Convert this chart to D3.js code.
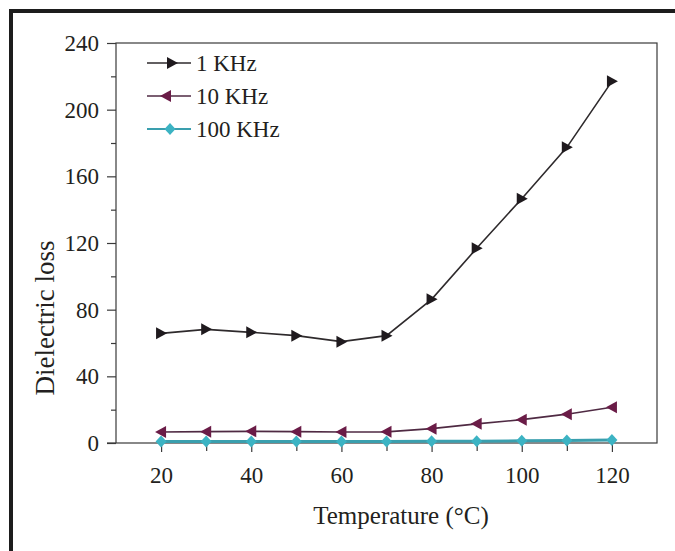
<!DOCTYPE html>
<html><head><meta charset="utf-8">
<script src="https://cdn.jsdelivr.net/npm/d3@7"></script>
<style>
html,body{margin:0;padding:0;background:#fff;}
svg{display:block;}
text{font-family:"Liberation Serif","Times New Roman",serif;fill:#231f20;}
</style></head>
<body>
<svg id="chart" width="675" height="551"></svg>
<script>
const temps = [20, 30, 40, 50, 60, 70, 80, 90, 100, 110, 120];
const loss1k = [65.8, 68.2, 66.4, 64.4, 60.8, 64.4, 86.2, 116.8, 146.6, 177.4, 217.0];
const loss10k = [6.6, 6.8, 7.0, 6.8, 6.6, 6.7, 8.6, 11.5, 14.0, 17.3, 21.4];
const loss100k = [0.9, 0.9, 0.9, 0.9, 0.9, 0.9, 1.0, 1.1, 1.3, 1.5, 1.8];
const seriesNames = ["1 KHz", "10 KHz", "100 KHz"];
const xTickLabels = [20, 40, 60, 80, 100, 120];
const xMinorTicks = [30, 50, 70, 90, 110];
const yTickLabels = [0, 40, 80, 120, 160, 200, 240];
const yMinorTicks = [20, 60, 100, 140, 180, 220];
const xTitle = "Temperature (\u00B0C)";
const yTitle = "Dielectric loss";

const svg = d3.select("#chart");
const x = d3.scaleLinear().domain([10, 130]).range([116, 657]);
const y = d3.scaleLinear().domain([0, 240]).range([443, 43]);

// outer frame
svg.append("path").attr("d", "M11,551 V11 H675").attr("fill", "none")
  .attr("stroke", "#1d1d1d").attr("stroke-width", 4);

// plot box
svg.append("rect").attr("x", x(10)).attr("y", y(240))
  .attr("width", x(130) - x(10)).attr("height", y(0) - y(240))
  .attr("fill", "none").attr("stroke", "#3a3a3a").attr("stroke-width", 1.2);

// axes
const xAxis = svg.append("g").attr("transform", `translate(0,${y(0)})`)
  .call(d3.axisBottom(x).tickValues(xTickLabels).tickSize(9).tickPadding(15).tickFormat(d3.format("d")));
const xMinor = svg.append("g").attr("transform", `translate(0,${y(0)})`)
  .call(d3.axisBottom(x).tickValues(xMinorTicks).tickSize(8).tickFormat(""));
const yAxis = svg.append("g").attr("transform", `translate(${x(10)},0)`)
  .call(d3.axisLeft(y).tickValues(yTickLabels).tickSize(9).tickPadding(8).tickFormat(d3.format("d")));
const yMinor = svg.append("g").attr("transform", `translate(${x(10)},0)`)
  .call(d3.axisLeft(y).tickValues(yMinorTicks).tickSize(5).tickFormat(""));
[xAxis, xMinor, yAxis, yMinor].forEach(g => {
  g.select(".domain").remove();
  g.selectAll("line").attr("stroke", "#3a3a3a").attr("stroke-width", 1.2);
  g.selectAll("text").style("font-size", "23px").style("font-family", '"Liberation Serif", serif').attr("fill", "#231f20");
});
svg.append("line").attr("x1", x(10) - 9).attr("x2", x(10)).attr("y1", y(0)).attr("y2", y(0))
  .attr("stroke", "#3a3a3a").attr("stroke-width", 1.2);

// titles
svg.append("text").attr("x", 401).attr("y", 524).attr("text-anchor", "middle")
  .style("font-size", "25px").text(xTitle);
svg.append("text").attr("transform", "translate(54,318) rotate(-90)").attr("text-anchor", "middle")
  .style("font-size", "27px").text(yTitle);

const markers = {
  right: "M-5,-6 L6,0 L-5,6 Z",
  left: "M5,-6 L-6,0 L5,6 Z",
  diamond: "M0,-6 L5.5,0 L0,6 L-5.5,0 Z"
};
const series = [
  {name: seriesNames[0], values: loss1k, line: "#2e2a2c", fill: "#1f1a1e", marker: "right", width: 1.6},
  {name: seriesNames[1], values: loss10k, line: "#4f2a43", fill: "#6a1c47", marker: "left", width: 1.6},
  {name: seriesNames[2], values: loss100k, line: "#3a9fae", fill: "#3cb3c3", marker: "diamond", width: 3}
];

const line = d3.line().x(d => x(d[0])).y(d => y(d[1]));
series.slice().reverse().forEach(s => {
  const pts = temps.map((t, i) => [t, s.values[i]]);
  svg.append("path").attr("d", line(pts)).attr("fill", "none")
    .attr("stroke", s.line).attr("stroke-width", s.width);
  svg.append("g").selectAll("path").data(pts).join("path")
    .attr("d", markers[s.marker])
    .attr("transform", d => `translate(${x(d[0])},${y(d[1])})`)
    .attr("fill", s.fill);
});

// legend
const legendY = [63, 96, 129];
const legendMarkerX = [172, 166, 170];
series.forEach((s, i) => {
  const g = svg.append("g");
  g.append("line").attr("x1", 147).attr("x2", 191).attr("y1", legendY[i]).attr("y2", legendY[i])
    .attr("stroke", s.line).attr("stroke-width", s.width > 2 ? 2 : 1.6);
  g.append("path").attr("d", markers[s.marker])
    .attr("transform", `translate(${legendMarkerX[i]},${legendY[i]})`).attr("fill", s.fill);
  g.append("text").attr("x", 196).attr("y", legendY[i]).attr("dy", "0.35em")
    .style("font-size", "23px").text(s.name);
});
</script>
</body></html>
